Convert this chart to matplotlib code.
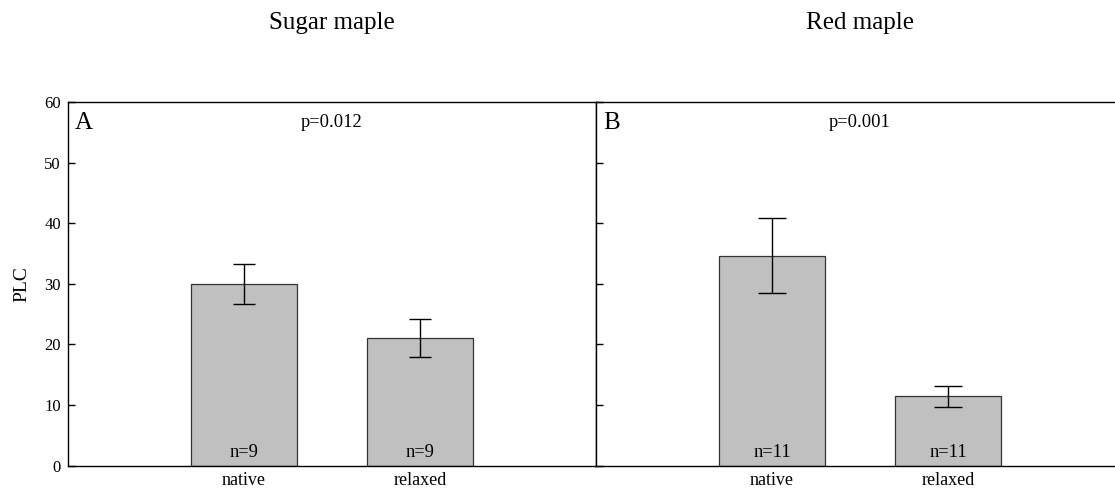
import matplotlib
matplotlib.use("Agg")
import matplotlib.pyplot as plt

plt.rcParams['font.family'] = ['Liberation Serif', 'DejaVu Serif']

categories = ["native", "relaxed"]
sugar_plc = [29.9, 21.0]
sugar_err = [3.3, 3.1]
red_plc = [34.6, 11.4]
red_err = [6.2, 1.7]
n_sugar = ["n=9", "n=9"]
n_red = ["n=11", "n=11"]
titles = ["Sugar maple", "Red maple"]
pvals = ["p=0.012", "p=0.001"]
letters = ["A", "B"]
yticks = [0, 10, 20, 30, 40, 50, 60]

W, H = 1115, 496
fig = plt.figure(figsize=(W / 100, H / 100), dpi=100)

y0, y1 = 465.5, 102
pw = 528
lefts = [68, 596]
caps = [7.7, 10.3]
datasets = [(sugar_plc, sugar_err, n_sugar), (red_plc, red_err, n_red)]

for i, (lx, (vals, errs, ns)) in enumerate(zip(lefts, datasets)):
    ax = fig.add_axes([lx / W, (H - y0) / H, pw / W, (y0 - y1) / H])
    pos = [1, 2]
    ax.bar(pos, vals, width=0.6, color="#c0c0c0", edgecolor="#333333", linewidth=0.9, zorder=2)
    ax.errorbar(pos, vals, yerr=errs, fmt="none", ecolor="black", elinewidth=1.0,
                capsize=caps[i], capthick=1.0, zorder=3)
    ax.set_xlim(0, 3)
    ax.set_ylim(0, 60)
    ax.set_yticks(yticks)
    ax.tick_params(axis="y", direction="in", length=5, width=1, labelsize=12, pad=5)
    ax.tick_params(axis="x", length=0, labelsize=13, pad=5)
    ax.set_xticks(pos)
    ax.set_xticklabels(categories)
    if i == 1:
        ax.tick_params(axis="y", labelleft=False)
    else:
        ax.set_ylabel("PLC", fontsize=14, labelpad=10)
    for sp in ax.spines.values():
        sp.set_linewidth(1.0)
        sp.set_color("black")
    for p, n in zip(pos, ns):
        ax.text(p, 2.1, n, ha="center", va="center", fontsize=13.3, zorder=4)
    ax.text(0.013, 0.942, letters[i], transform=ax.transAxes, ha="left", va="center", fontsize=18)
    ax.text(0.5, 0.943, pvals[i], transform=ax.transAxes, ha="center", va="center", fontsize=13.3)
    ax.text(0.5, 1.217, titles[i], transform=ax.transAxes, ha="center", va="center", fontsize=18)

fig.savefig("out.png", dpi=100)
